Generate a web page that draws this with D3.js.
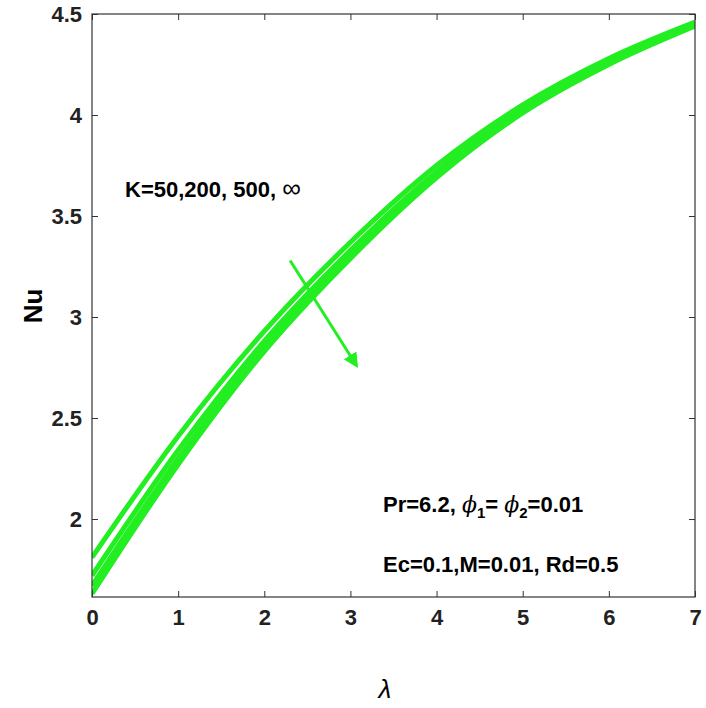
<!DOCTYPE html>
<html><head><meta charset="utf-8">
<script src="https://cdn.jsdelivr.net/npm/d3@7"></script>
<style>body{margin:0;background:#fff}text{font-family:"Liberation Sans",Arial,sans-serif}</style>
</head><body>
<script>
const xs = [0, 1, 2, 3, 4, 5, 6, 7];
const nuK50 = [1.81, 2.41, 2.93, 3.37, 3.75, 4.05, 4.28, 4.46];
const nuK200 = [1.72, 2.34, 2.88, 3.33, 3.72, 4.03, 4.27, 4.45];
const nuK500 = [1.67, 2.30, 2.85, 3.31, 3.70, 4.02, 4.26, 4.45];
const nuKinf = [1.63, 2.27, 2.83, 3.29, 3.69, 4.01, 4.25, 4.44];
const xTicks = [0, 1, 2, 3, 4, 5, 6, 7];
const yTicks = [2, 2.5, 3, 3.5, 4, 4.5];

const W = 706, H = 708, L = 92, R = 695, T = 14, B = 597;
const svg = d3.select('body').append('svg').attr('width', W).attr('height', H);
const x = d3.scaleLinear().domain([0, 7]).range([L, R]);
const y = d3.scaleLinear().domain([1.614, 4.5]).range([B, T]);

svg.append('clipPath').attr('id', 'c').append('rect')
  .attr('x', L).attr('y', T).attr('width', R - L).attr('height', B - T);

const line = d3.line().x((d, i) => x(xs[i])).y(d => y(d)).curve(d3.curveMonotoneX);
[nuK50, nuK200, nuK500, nuKinf].forEach(s => {
  svg.append('path').attr('d', line(s)).attr('fill', 'none')
    .attr('stroke', '#22ee22').attr('stroke-width', 5).attr('clip-path', 'url(#c)');
});

svg.append('rect').attr('x', L).attr('y', T).attr('width', R - L).attr('height', B - T)
  .attr('fill', 'none').attr('stroke', '#333').attr('stroke-width', 1.2);

const gx = svg.append('g').attr('transform', `translate(0,${B})`)
  .call(d3.axisBottom(x).tickValues(xTicks).tickSize(-6).tickPadding(12).tickFormat(d3.format('d')));
const gxt = svg.append('g').attr('transform', `translate(0,${T})`)
  .call(d3.axisTop(x).tickValues(xTicks).tickSize(-6).tickFormat(''));
const gy = svg.append('g').attr('transform', `translate(${L},0)`)
  .call(d3.axisLeft(y).tickValues(yTicks).tickSize(-6).tickPadding(10).tickFormat(d => d));
const gyr = svg.append('g').attr('transform', `translate(${R},0)`)
  .call(d3.axisRight(y).tickValues(yTicks).tickSize(-6).tickFormat(''));
[gx, gxt, gy, gyr].forEach(g => {
  g.select('.domain').remove();
  g.selectAll('line').attr('stroke', '#333');
  g.selectAll('text').attr('font-size', 22).attr('font-weight', 'bold').attr('fill', '#222');
});

svg.append('text').attr('x', 385).attr('y', 698).attr('text-anchor', 'middle')
  .attr('font-size', 26).attr('font-style', 'italic').attr('font-family', 'DejaVu Serif').text('λ');
svg.append('text').attr('transform', 'translate(42,306) rotate(-90)').attr('text-anchor', 'middle')
  .attr('font-size', 26).attr('font-weight', 'bold').text('Nu');

svg.append('defs').append('marker').attr('id', 'ah').attr('viewBox', '0 0 10 10')
  .attr('refX', 8).attr('refY', 5).attr('markerWidth', 5).attr('markerHeight', 5).attr('orient', 'auto')
  .append('path').attr('d', 'M0,0 L10,5 L0,10 z').attr('fill', '#22ee22');
svg.append('line').attr('x1', x(2.3)).attr('y1', y(3.28)).attr('x2', x(3.07)).attr('y2', y(2.76))
  .attr('stroke', '#22ee22').attr('stroke-width', 3).attr('marker-end', 'url(#ah)');

const t1 = svg.append('text').attr('x', 125).attr('y', 197).attr('font-size', 22).attr('font-weight', 'bold');
t1.append('tspan').text('K=50,200, 500, ');
t1.append('tspan').attr('font-weight', 'normal').attr('font-size', 26).text('∞');

const t2 = svg.append('text').attr('x', 383).attr('y', 512).attr('font-size', 22).attr('font-weight', 'bold');
t2.append('tspan').text('Pr=6.2, ');
t2.append('tspan').attr('font-style', 'italic').attr('font-weight', 'normal').attr('font-family', 'DejaVu Serif').text('ϕ');
t2.append('tspan').attr('font-size', 15).attr('dy', 6).text('1');
t2.append('tspan').attr('dy', -6).text('= ');
t2.append('tspan').attr('font-style', 'italic').attr('font-weight', 'normal').attr('font-family', 'DejaVu Serif').text('ϕ');
t2.append('tspan').attr('font-size', 15).attr('dy', 6).text('2');
t2.append('tspan').attr('dy', -6).text('=0.01');

svg.append('text').attr('x', 383).attr('y', 572).attr('font-size', 22).attr('font-weight', 'bold')
  .text('Ec=0.1,M=0.01, Rd=0.5');
</script>
</body></html>
